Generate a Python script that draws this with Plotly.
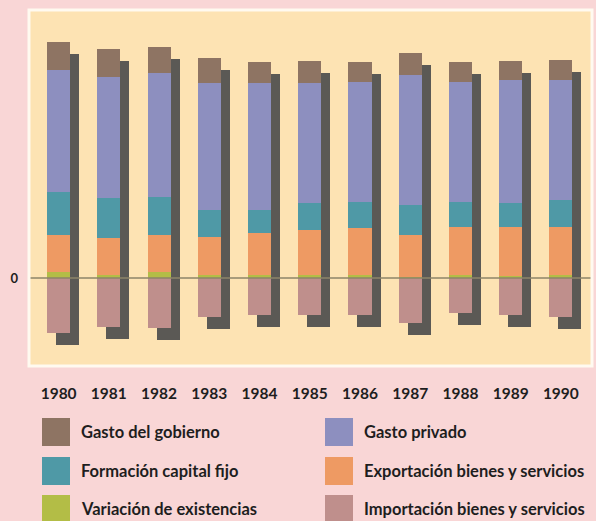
import plotly.graph_objects as go

# ---- data (percent of GDP) ----
years = [1980, 1981, 1982, 1983, 1984, 1985, 1986, 1987, 1988, 1989, 1990]
year_labels = [str(y) for y in years]
gasto_gobierno = [15.4, 15.2, 14.8, 13.9, 12.0, 12.6, 11.1, 12.4, 11.1, 10.7, 11.1]
gasto_privado = [67.6, 67.4, 68.6, 70.4, 70.4, 66.7, 66.7, 72.2, 66.7, 68.5, 66.7]
formacion_capital = [24.1, 22.2, 21.3, 14.8, 12.9, 14.8, 14.8, 16.7, 13.9, 13.0, 14.8]
exportacion = [20.4, 20.6, 20.4, 21.3, 23.2, 25.0, 25.9, 23.2, 26.8, 27.4, 26.8]
variacion = [3.5, 1.7, 3.5, 1.7, 1.7, 1.7, 1.7, 0.7, 1.7, 1.1, 1.7]
importacion = [30.7, 27.1, 27.9, 21.5, 20.6, 20.6, 20.6, 25.2, 19.6, 20.6, 21.5]

names = ["Gasto del gobierno", "Gasto privado", "Formación capital fijo",
         "Exportación bienes y servicios", "Variación de existencias",
         "Importación bienes y servicios"]

# ---- style ----
C_GOV = "#8e7463"
C_PRIV = "#8d8fbf"
C_FCF = "#4f99a6"
C_EXP = "#ee9a63"
C_VAR = "#b3bd46"
C_IMP = "#bf8f8c"
C_SHADOW = "#5b5955"
PAPER = "#f9d6d6"
PLOT = "#fde3b3"
FONT = "Lato"

BAR_W = 0.46
SH_DX = 0.18     # shadow offset in x (years)
SH_DY = 6.7      # shadow offset in y (units)

fig = go.Figure()

# shadow bars (behind)
pos_total = [a + b + c + d + e for a, b, c, d, e in
             zip(gasto_gobierno, gasto_privado, formacion_capital, exportacion, variacion)]
fig.add_trace(go.Bar(
    x=years, y=[p + m for p, m in zip(pos_total, importacion)],
    base=[-m - SH_DY for m in importacion],
    width=BAR_W, offset=-BAR_W / 2 + SH_DX,
    marker=dict(color=C_SHADOW, line=dict(width=0)),
    showlegend=False, hoverinfo="skip"))

# stacked positive segments from zero upward
stack_order = [(variacion, C_VAR, names[4]), (exportacion, C_EXP, names[3]),
               (formacion_capital, C_FCF, names[2]), (gasto_privado, C_PRIV, names[1]),
               (gasto_gobierno, C_GOV, names[0])]
base = [0.0] * len(years)
for vals, col, nm in stack_order:
    fig.add_trace(go.Bar(
        x=years, y=vals, base=list(base), width=BAR_W, offset=-BAR_W / 2,
        marker=dict(color=col, line=dict(width=0)), name=nm, showlegend=False))
    base = [b + v for b, v in zip(base, vals)]

# imports (negative)
fig.add_trace(go.Bar(
    x=years, y=importacion, base=[-v for v in importacion], width=BAR_W, offset=-BAR_W / 2,
    marker=dict(color=C_IMP, line=dict(width=0)), name=names[5], showlegend=False))

# zero line
fig.add_shape(type="line", xref="paper", x0=0, x1=1, yref="y", y0=0, y1=0,
              line=dict(color="#8c8468", width=1.5), layer="above")
# white frame around plot area
fig.add_shape(type="rect", xref="paper", yref="paper", x0=0, x1=1, y0=0, y1=1,
              line=dict(color="#fffaf0", width=3), layer="above")

# manual legend (large square swatches)
legend_items = [(names[0], C_GOV), (names[1], C_PRIV), (names[2], C_FCF),
                (names[3], C_EXP), (names[4], C_VAR), (names[5], C_IMP)]
W, H = 596, 521
L, R, T, B = 29, 4, 10, 155
pw, ph = W - L - R, H - T - B
def px_x(x):
    return (x - L) / pw
def px_y(y):
    return (H - B - y) / ph
col_x = [42, 325]
row_y = [432, 471, 509]
for i, (nm, col) in enumerate(legend_items):
    cx = col_x[i % 2]
    cy = row_y[i // 2]
    fig.add_shape(type="rect", xref="paper", yref="paper",
                  x0=px_x(cx), x1=px_x(cx + 28), y0=px_y(cy + 14), y1=px_y(cy - 14),
                  fillcolor=col, line=dict(width=0))
    fig.add_annotation(xref="paper", yref="paper", x=px_x(cx + 37), y=px_y(cy),
                       text=nm, showarrow=False, xanchor="left", yanchor="middle",
                       font=dict(family=FONT, size=16.5, color="#1e1e1e", weight="bold"))

fig.update_layout(
    width=W, height=H,
    margin=dict(l=L, r=R, t=T, b=B, pad=0),
    paper_bgcolor=PAPER, plot_bgcolor=PLOT,
    barmode="overlay", bargap=0,
    showlegend=False,
    font=dict(family=FONT, color="#1e1e1e"),
)
fig.update_xaxes(range=[1979.41, 1990.62], tickvals=years, ticktext=year_labels,
                 showgrid=False, zeroline=False, ticks="", showline=False,
                 ticklabelstandoff=16,
                 tickfont=dict(family=FONT, size=15.5, color="#1e1e1e", weight="bold"))
fig.update_yaxes(range=[-48.9, 148.9], tickvals=[0], ticktext=["0"],
                 showgrid=False, zeroline=False, ticks="", showline=False,
                 ticklabelstandoff=10,
                 tickfont=dict(family=FONT, size=13, color="#1e1e1e", weight="bold"))

fig.write_html("out.html",
               config={"displayModeBar": False},
               post_script="document.body.style.margin='0px';"
                           "document.body.style.overflow='hidden';"
                           "document.body.style.background='" + PAPER + "';")
